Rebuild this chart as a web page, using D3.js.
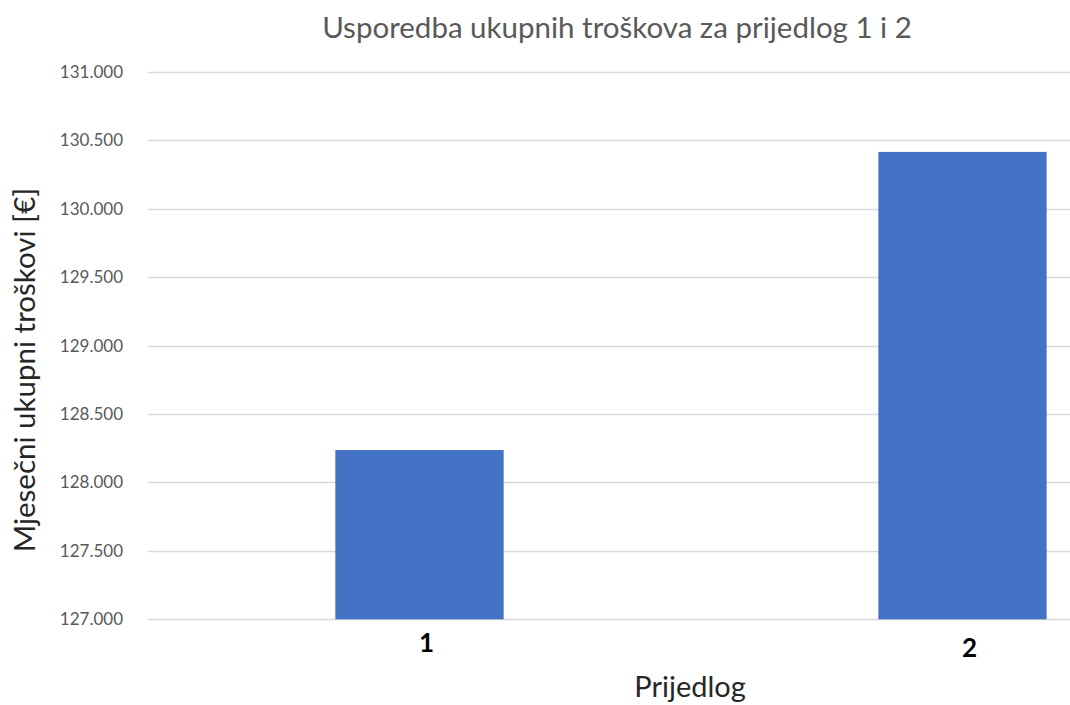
<!DOCTYPE html>
<html>
<head>
<meta charset="utf-8">
<script src="https://cdn.jsdelivr.net/npm/d3@7"></script>
<style>
  body { margin: 0; background: #fff; }
  svg { display: block; }
</style>
</head>
<body>
<svg width="1070" height="705"></svg>
<script>
var categories = ["1", "2"],
    values = [128237, 130416],
    yTicks = [127000, 127500, 128000, 128500, 129000, 129500, 130000, 130500, 131000];

var svg = d3.select("svg"),
    width = +svg.attr("width"),
    height = +svg.attr("height");

var font = "Lato, 'Open Sans', sans-serif";

// plot area runs past the right edge (the original image is cropped)
var x = d3.scaleBand()
    .domain(categories)
    .range([148, 1234])
    .paddingInner(0.69)
    .paddingOuter(0.345);

var y = d3.scaleLinear()
    .domain([127000, 131000])
    .range([619.3, 72]);

var fmt = function(d) { return d3.format(",.0f")(d).replace(/,/g, "."); };

// gridlines
svg.append("g")
    .selectAll("line")
    .data(yTicks)
    .join("line")
    .attr("x1", 148)
    .attr("x2", width)
    .attr("y1", function(d) { return Math.round(y(d)) + 0.5; })
    .attr("y2", function(d) { return Math.round(y(d)) + 0.5; })
    .attr("stroke", "#d9d9d9")
    .attr("stroke-width", 1.5);

// y tick labels
svg.append("g")
    .selectAll("text")
    .data(yTicks)
    .join("text")
    .attr("x", 123)
    .attr("y", function(d) { return y(d); })
    .attr("dy", "0.35em")
    .attr("text-anchor", "end")
    .attr("font-family", font)
    .attr("font-size", 17)
    .attr("fill", "#595959")
    .text(fmt);

// bars
svg.append("g")
    .selectAll("rect")
    .data(values)
    .join("rect")
    .attr("x", function(d, i) { return x(categories[i]); })
    .attr("width", x.bandwidth())
    .attr("y", function(d) { return y(d); })
    .attr("height", function(d) { return y(127000) - y(d); })
    .attr("fill", "#4472c4");

// category labels (bold, slightly off centre like the original)
svg.append("g")
    .selectAll("text")
    .data(categories)
    .join("text")
    .attr("x", function(d) { return x(d) + x.bandwidth() / 2 + 7; })
    .attr("y", function(d, i) { return i ? 657 : 652; })
    .attr("text-anchor", "middle")
    .attr("font-family", font)
    .attr("font-weight", "bold")
    .attr("font-size", 26)
    .attr("fill", "#000")
    .text(function(d) { return d; });

// title
svg.append("text")
    .attr("x", 617)
    .attr("y", 38)
    .attr("text-anchor", "middle")
    .attr("font-family", font)
    .attr("font-size", 29.5)
    .attr("fill", "#595959")
    .text("Usporedba ukupnih troškova za prijedlog 1 i 2");

// x axis title
svg.append("text")
    .attr("x", 690)
    .attr("y", 697)
    .attr("text-anchor", "middle")
    .attr("font-family", font)
    .attr("font-size", 29)
    .attr("fill", "#262626")
    .text("Prijedlog");

// y axis title
svg.append("text")
    .attr("transform", "translate(35,370) rotate(-90)")
    .attr("text-anchor", "middle")
    .attr("font-family", font)
    .attr("font-size", 29.5)
    .attr("fill", "#262626")
    .text("Mjesečni ukupni troškovi [€]");
</script>
</body>
</html>
